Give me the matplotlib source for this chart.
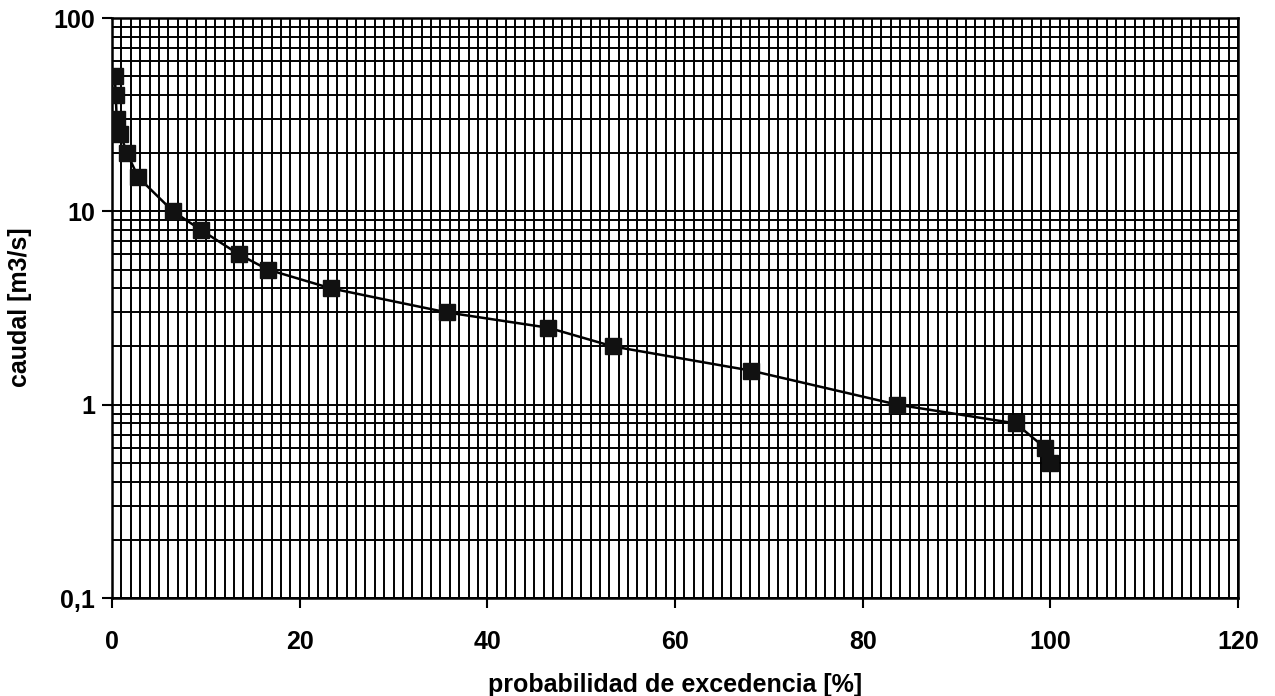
import numpy as np
import matplotlib
matplotlib.use("Agg")
import matplotlib.pyplot as plt
from matplotlib.ticker import FixedLocator, MultipleLocator, LogLocator, NullFormatter

# curva de duración de caudales
prob = [0.3, 0.4, 0.5, 0.9, 1.6, 2.8, 6.5, 9.5, 13.5, 16.6, 23.3, 35.7, 46.5, 53.4,
        68.1, 83.7, 96.3, 99.4, 100.0]
caudal = [50, 40, 30, 25, 20, 15, 10, 8, 6, 5, 4, 3, 2.5, 2, 1.5, 1, 0.8, 0.6, 0.5]

y_ticks = [0.1, 1, 10, 100]
y_labels = ["0,1", "1", "10", "100"]
x_ticks = [0, 20, 40, 60, 80, 100, 120]

plt.rcParams["font.family"] = ["Liberation Sans", "DejaVu Sans"]

fig = plt.figure(figsize=(12.75, 6.96), dpi=100)
ax = fig.add_axes([112 / 1275, 1 - 598 / 696, (1238 - 112) / 1275, (598 - 18) / 696])

ax.set_yscale("log")
ax.set_xlim(0, 120)
ax.set_ylim(0.1, 100)

ax.xaxis.set_major_locator(FixedLocator(x_ticks))
ax.xaxis.set_minor_locator(MultipleLocator(1))
ax.yaxis.set_major_locator(FixedLocator(y_ticks))
ax.yaxis.set_minor_locator(LogLocator(base=10, subs=np.arange(2, 10)))
ax.yaxis.set_minor_formatter(NullFormatter())
ax.set_yticklabels(y_labels)
ax.set_xticklabels([str(t) for t in x_ticks])

ax.grid(True, which="both", color="black", linewidth=1.4)
ax.set_axisbelow(True)
ax.tick_params(which="major", direction="out", length=7, width=1.5, labelsize=18)
ax.tick_params(axis="x", pad=16)
ax.tick_params(axis="y", pad=5)
ax.tick_params(which="minor", length=0)
for s in ax.spines.values():
    s.set_linewidth(1.8)
for lab in ax.get_xticklabels() + ax.get_yticklabels():
    lab.set_fontweight("bold")

ax.plot(prob, caudal, color="black", linewidth=1.8, marker="s", markersize=11,
        markerfacecolor="#111111", markeredgecolor="#111111", zorder=5)

fig.text(675 / 1275, 1 - 685 / 696, "probabilidad de excedencia [%]", fontsize=18,
         fontweight="bold", ha="center", va="center")
fig.text(20 / 1275, 1 - 307 / 696, "caudal [m3/s]", fontsize=18, fontweight="bold",
         ha="center", va="center", rotation=90)

fig.savefig("out.png", dpi=100)
